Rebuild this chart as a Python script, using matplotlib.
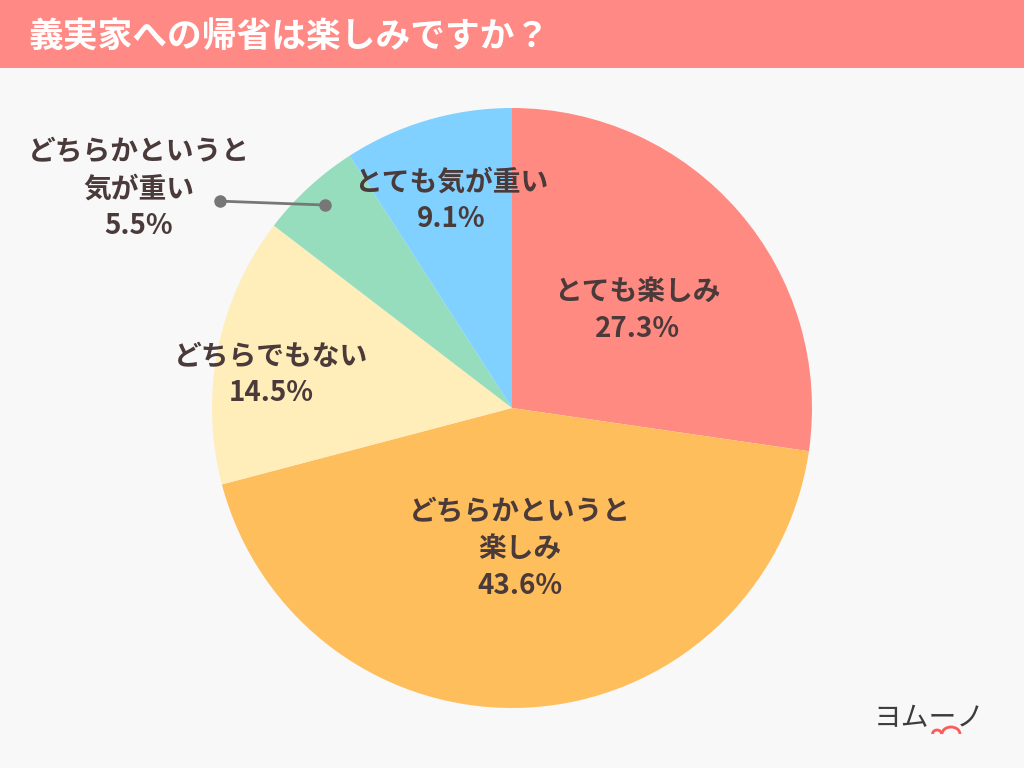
import numpy as np
import matplotlib.pyplot as plt
from matplotlib.patches import Rectangle, Arc

plt.rcParams['font.family'] = ['Noto Sans CJK JP', 'DejaVu Sans']

# データ
title = "義実家への帰省は楽しみですか？"
labels = ["とても楽しみ", "どちらかというと\n楽しみ", "どちらでもない", "どちらかというと\n気が重い", "とても気が重い"]
values = [27.3, 43.6, 14.5, 5.5, 9.1]
colors = ["#FF8A82", "#FFBE5C", "#FFEDBA", "#96DDBD", "#80D1FF"]
label_r = [0.53, 0.47, 0.81, None, 0.72]
label_shift = [-3, 0, 3.5, 0, 0]  # ラベル位置の角度補正

text_color = "#4B3A3A"
bg = "#F8F8F8"

fig = plt.figure(figsize=(10.24, 7.68), dpi=100)
fig.patch.set_facecolor(bg)

# タイトル帯
fig.patches.append(Rectangle((0, 1 - 68 / 768), 1, 68 / 768, transform=fig.transFigure,
                             facecolor="#FF8A85", edgecolor="none", zorder=0))
fig.text(28 / 1024, 1 - 36 / 768, title, color="white", fontsize=25, fontweight="bold",
         va="center", ha="left")

# 円グラフ
R = 300
ax = fig.add_axes([(512 - R) / 1024, (768 - 408 - R) / 768, 2 * R / 1024, 2 * R / 768])
wedges, _ = ax.pie(values, colors=colors, startangle=90, counterclock=False,
                   wedgeprops=dict(linewidth=0))
ax.set_xlim(-1, 1)
ax.set_ylim(-1, 1)
ax.set_aspect("equal")
ax.axis("off")

for w, lab, v, r, sh in zip(wedges, labels, values, label_r, label_shift):
    theta = np.deg2rad((w.theta1 + w.theta2) / 2 + sh)
    if r is not None:
        ax.text(r * np.cos(theta), r * np.sin(theta), f"{lab}\n{v}%", ha="center", va="center",
                fontsize=20, fontweight="bold", color=text_color, linespacing=1.42)
    else:
        # 外側ラベル（引き出し線つき）
        x0, y0 = 0.92 * np.cos(theta), 0.92 * np.sin(theta)
        x1, y1 = x0 - 0.35, y0 + 0.013
        ax.plot([x0, x1], [y0, y1], color="#777777", lw=2, clip_on=False)
        ax.plot([x0, x1], [y0, y1], "o", color="#777777", ms=8, clip_on=False)
        ax.text(x1 - 0.27, y1 + 0.04, f"{lab}\n{v}%", ha="center", va="center",
                fontsize=20, fontweight="bold", color=text_color, linespacing=1.42)

# ロゴ
fig.text(929 / 1024, 1 - 718 / 768, "ヨムーノ", fontsize=20, color="#3C3C3C",
         ha="center", va="center")
logo_ax = fig.add_axes([0, 0, 1, 1], facecolor="none")
logo_ax.set_xlim(0, 1024)
logo_ax.set_ylim(768, 0)
logo_ax.axis("off")
logo_ax.add_patch(Arc((951, 734), 18, 14, theta1=180, theta2=360, color="#FF5A5A", lw=2))
logo_ax.add_patch(Arc((937, 734), 9, 8, theta1=180, theta2=360, color="#FF5A5A", lw=2))

plt.savefig("out.png", dpi=100, facecolor=bg)
